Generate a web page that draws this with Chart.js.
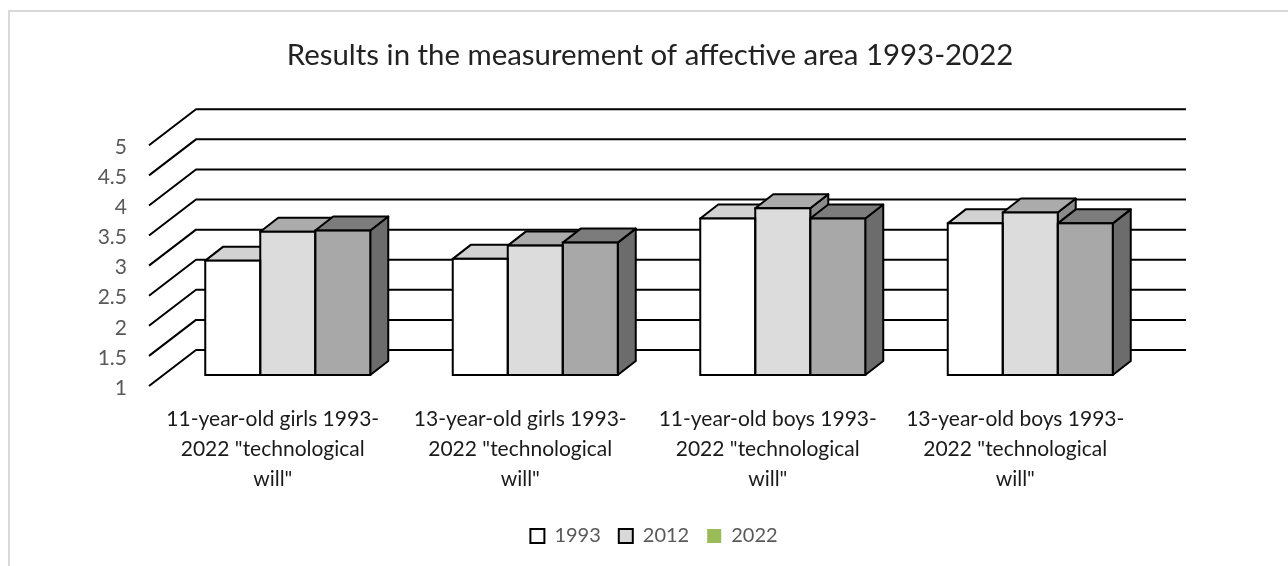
<!DOCTYPE html>
<html>
<head>
<meta charset="utf-8">
<title>Affective area results</title>
<script src="https://cdn.jsdelivr.net/npm/chart.js@4"></script>
<style>
    html, body { margin: 0; padding: 0; background: #fff; overflow: hidden; width: 1288px; height: 566px; }
    #frame { position: absolute; left: 8px; top: 10px; width: 1284px; height: 600px; border: 2px solid #d9d9d9; }
    canvas { display: block; }
</style>
</head>
<body>
<div id="frame"><canvas id="affectiveChart" width="1280" height="554"></canvas></div>
<script>
// Values per group
const categories = [
    ['11-year-old girls 1993-', '2022 "technological', 'will"'],
    ['13-year-old girls 1993-', '2022 "technological', 'will"'],
    ['11-year-old boys 1993-', '2022 "technological', 'will"'],
    ['13-year-old boys 1993-', '2022 "technological', 'will"']
];
const seriesNames = ['1993', '2012', '2022'];
const values1993 = [2.9, 2.93, 3.6, 3.52];
const values2012 = [3.38, 3.15, 3.77, 3.7];
const values2022 = [3.4, 3.2, 3.6, 3.52];
const yTickLabels = ['1', '1.5', '2', '2.5', '3', '3.5', '4', '4.5', '5'];

const yMin = 1;
const yMax = 5;
const yStep = 0.5;

// Bar faces: front, top, side
const frontColors = ['#ffffff', '#dcdcdc', '#a8a8a8'];
const topColors = ['#d2d2d2', '#ababab', '#7c7c7c'];
const sideColors = ['#a0a0a0', '#8a8a8a', '#6c6c6c'];
const legendColors = ['#ffffff', '#d9d9d9', '#9bbb59'];

const FONT = 'Lato, Carlito, Calibri, sans-serif';

// Bars stand a little way into the floor; wall is further back, floor edge further forward
const BAR_DX = 18, BAR_DY = -14;
const WALL_DX = 32, WALL_DY = -25;
const EDGE_DX = -15, EDGE_DY = 11;

// Walls, gridlines and the depth faces of the bars
const depthPlugin = {
    id: 'depth',
    afterLayout(chart) {
        // legend sits slightly right of centre
        chart.legend.left += 4;
        chart.legend.right += 4;
    },
    beforeDatasetsDraw(chart) {
        const { ctx, scales: { y }, chartArea } = chart;
        ctx.save();
        ctx.strokeStyle = '#000';
        ctx.lineWidth = 2;
        ctx.lineJoin = 'round';
        y.ticks.forEach(t => {
            const py = y.getPixelForValue(t.value);
            ctx.beginPath();
            ctx.moveTo(chartArea.left + EDGE_DX, py + EDGE_DY);
            ctx.lineTo(chartArea.left + WALL_DX, py + WALL_DY);
            ctx.lineTo(chartArea.right + WALL_DX, py + WALL_DY);
            ctx.stroke();
        });
        // left to right so that later bars cover the earlier ones
        categories.forEach((c, i) => {
            chart.data.datasets.forEach((ds, d) => {
                const bar = chart.getDatasetMeta(d).data[i];
                const l = bar.x - bar.width / 2, r = bar.x + bar.width / 2;
                const t = bar.y, b = bar.base;
                ctx.fillStyle = sideColors[d];
                ctx.beginPath();
                ctx.moveTo(r, t);
                ctx.lineTo(r + BAR_DX, t + BAR_DY);
                ctx.lineTo(r + BAR_DX, b + BAR_DY);
                ctx.lineTo(r, b);
                ctx.closePath();
                ctx.fill();
                ctx.stroke();
                ctx.fillStyle = topColors[d];
                ctx.beginPath();
                ctx.moveTo(l, t);
                ctx.lineTo(l + BAR_DX, t + BAR_DY);
                ctx.lineTo(r + BAR_DX, t + BAR_DY);
                ctx.lineTo(r, t);
                ctx.closePath();
                ctx.fill();
                ctx.stroke();
            });
        });
        ctx.restore();
    },
    afterDatasetsDraw(chart) {
        const { ctx } = chart;
        ctx.save();
        ctx.strokeStyle = '#000';
        ctx.lineWidth = 2;
        chart.data.datasets.forEach((ds, d) => {
            chart.getDatasetMeta(d).data.forEach(bar => {
                ctx.strokeRect(bar.x - bar.width / 2, bar.y, bar.width, bar.base - bar.y);
            });
        });
        ctx.restore();
    }
};

new Chart(document.getElementById('affectiveChart'), {
    type: 'bar',
    data: {
        labels: categories,
        datasets: [
            { label: seriesNames[0], data: values1993, backgroundColor: frontColors[0] },
            { label: seriesNames[1], data: values2012, backgroundColor: frontColors[1] },
            { label: seriesNames[2], data: values2022, backgroundColor: frontColors[2] }
        ]
    },
    plugins: [depthPlugin],
    options: {
        responsive: false,
        animation: false,
        layout: { padding: { left: 0, right: 0, top: 0, bottom: 10 } },
        datasets: { bar: { categoryPercentage: 2 / 3, barPercentage: 1, borderWidth: 0, base: yMin } },
        scales: {
            x: {
                grid: { display: false },
                border: { display: false },
                afterFit(scale) { scale.height = 133; },
                ticks: {
                    color: '#1a1a1a',
                    font: { family: FONT, size: 21, lineHeight: 1.43 },
                    padding: 21,
                    labelOffset: -15,
                    maxRotation: 0,
                    autoSkip: false
                }
            },
            y: {
                min: yMin,
                max: yMax,
                grid: { display: false },
                border: { display: false },
                afterFit(scale) { scale.width = 154; },
                ticks: {
                    stepSize: yStep,
                    color: '#595959',
                    font: { family: FONT, size: 21 },
                    padding: 29,
                    labelOffset: 13,
                    callback: (v, i) => yTickLabels[i]
                }
            },
            // empty axis, keeps room on the right for the back wall
            wallRoom: {
                position: 'right',
                grid: { display: false },
                border: { display: false },
                ticks: { display: false },
                afterFit(scale) { scale.width = 136; }
            }
        },
        plugins: {
            title: {
                display: true,
                text: 'Results in the measurement of affective area 1993-2022',
                color: '#222',
                font: { family: FONT, size: 29.4, weight: 'normal' },
                padding: { top: 26, bottom: 61 }
            },
            legend: {
                position: 'bottom',
                labels: {
                    color: '#595959',
                    font: { family: FONT, size: 20 },
                    boxWidth: 14,
                    boxHeight: 14,
                    padding: 18,
                    generateLabels: () => seriesNames.map((name, i) => ({
                        text: name,
                        fillStyle: legendColors[i],
                        strokeStyle: i < 2 ? '#000' : legendColors[i],
                        lineWidth: i < 2 ? 2 : 0,
                        fontColor: '#595959',
                        datasetIndex: i
                    }))
                }
            },
            tooltip: { enabled: false }
        }
    }
});
</script>
</body>
</html>
